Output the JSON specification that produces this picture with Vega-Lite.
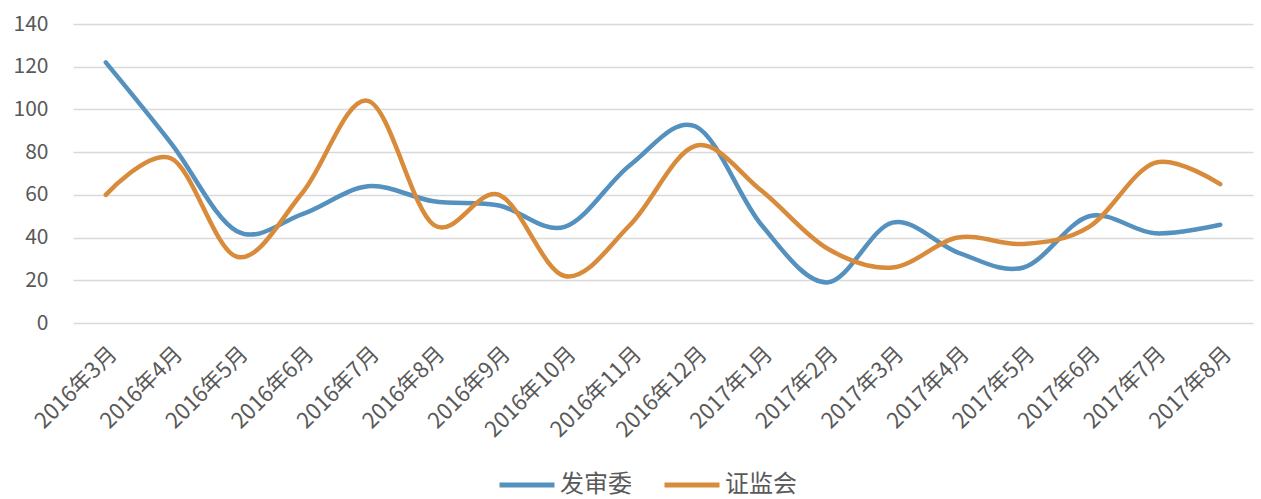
{
  "$schema": "https://vega.github.io/schema/vega-lite/v6.json",
  "autosize": {"type": "none"},
  "width": 1180,
  "height": 299,
  "padding": {"left": 73, "top": 24, "right": 8, "bottom": 176},
  "background": "#ffffff",
  "config": {
    "font": "Noto Sans CJK SC",
    "view": {"stroke": null},
    "axis": {"labelColor": "#595959", "labelFont": "Noto Sans CJK SC"}
  },
  "data": {
    "values": [
      {"month": "2016年3月", "series": "发审委", "value": 122},
      {"month": "2016年4月", "series": "发审委", "value": 84},
      {"month": "2016年5月", "series": "发审委", "value": 43},
      {"month": "2016年6月", "series": "发审委", "value": 51},
      {"month": "2016年7月", "series": "发审委", "value": 64},
      {"month": "2016年8月", "series": "发审委", "value": 57},
      {"month": "2016年9月", "series": "发审委", "value": 55},
      {"month": "2016年10月", "series": "发审委", "value": 45},
      {"month": "2016年11月", "series": "发审委", "value": 74},
      {"month": "2016年12月", "series": "发审委", "value": 92},
      {"month": "2017年1月", "series": "发审委", "value": 46},
      {"month": "2017年2月", "series": "发审委", "value": 19},
      {"month": "2017年3月", "series": "发审委", "value": 47},
      {"month": "2017年4月", "series": "发审委", "value": 33},
      {"month": "2017年5月", "series": "发审委", "value": 26},
      {"month": "2017年6月", "series": "发审委", "value": 50},
      {"month": "2017年7月", "series": "发审委", "value": 42},
      {"month": "2017年8月", "series": "发审委", "value": 46},
      {"month": "2016年3月", "series": "证监会", "value": 60},
      {"month": "2016年4月", "series": "证监会", "value": 77},
      {"month": "2016年5月", "series": "证监会", "value": 31},
      {"month": "2016年6月", "series": "证监会", "value": 61},
      {"month": "2016年7月", "series": "证监会", "value": 104},
      {"month": "2016年8月", "series": "证监会", "value": 46},
      {"month": "2016年9月", "series": "证监会", "value": 60},
      {"month": "2016年10月", "series": "证监会", "value": 22},
      {"month": "2016年11月", "series": "证监会", "value": 46},
      {"month": "2016年12月", "series": "证监会", "value": 83},
      {"month": "2017年1月", "series": "证监会", "value": 62},
      {"month": "2017年2月", "series": "证监会", "value": 35},
      {"month": "2017年3月", "series": "证监会", "value": 26},
      {"month": "2017年4月", "series": "证监会", "value": 40},
      {"month": "2017年5月", "series": "证监会", "value": 37},
      {"month": "2017年6月", "series": "证监会", "value": 45},
      {"month": "2017年7月", "series": "证监会", "value": 75},
      {"month": "2017年8月", "series": "证监会", "value": 65}
    ]
  },
  "mark": {"type": "line", "interpolate": "cardinal", "tension": 0, "strokeWidth": 4.5, "strokeCap": "round"},
  "encoding": {
    "x": {
      "field": "month",
      "type": "ordinal",
      "sort": null,
      "scale": {"type": "point", "padding": 0.5},
      "axis": {
        "title": null,
        "domain": false,
        "ticks": false,
        "grid": false,
        "labelAngle": -45,
        "labelAlign": "right",
        "labelBaseline": "top",
        "labelPadding": 20,
        "labelFontSize": 22,
        "labelColor": "#595959"
      }
    },
    "y": {
      "field": "value",
      "type": "quantitative",
      "scale": {"domain": [0, 140], "nice": false},
      "axis": {
        "title": null,
        "domain": false,
        "ticks": false,
        "values": [0, 20, 40, 60, 80, 100, 120, 140],
        "grid": true,
        "gridColor": "#d9d9d9",
        "gridWidth": 1.5,
        "labelPadding": 25,
        "labelFontSize": 21,
        "labelColor": "#595959"
      }
    },
    "color": {
      "field": "series",
      "type": "nominal",
      "scale": {"domain": ["发审委", "证监会"], "range": ["#5591bf", "#d98b3c"]},
      "legend": {
        "title": null,
        "orient": "none",
        "direction": "horizontal",
        "legendX": 424,
        "legendY": 431,
        "padding": 0,
        "symbolType": "stroke",
        "symbolSize": 3025,
        "symbolStrokeWidth": 5,
        "labelFontSize": 24,
        "labelColor": "#595959",
        "labelOffset": 3,
        "columnPadding": 22
      }
    }
  }
}
